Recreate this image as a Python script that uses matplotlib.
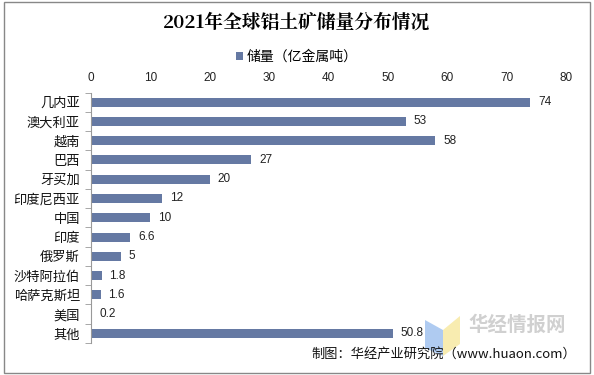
import matplotlib.pyplot as plt
from matplotlib.patches import Rectangle, Polygon

plt.rcParams['font.family'] = ['Noto Sans CJK SC', 'DejaVu Sans']

# ==============================
# DATA
# ==============================

countries = ["几内亚", "澳大利亚", "越南", "巴西", "牙买加", "印度尼西亚", "中国",
             "印度", "俄罗斯", "沙特阿拉伯", "哈萨克斯坦", "美国", "其他"]
reserves = [74, 53, 58, 27, 20, 12, 10, 6.6, 5, 1.8, 1.6, 0.2, 50.8]
value_labels = ["74", "53", "58", "27", "20", "12", "10", "6.6", "5", "1.8", "1.6", "0.2", "50.8"]
xticks = [0, 10, 20, 30, 40, 50, 60, 70, 80]

BAR_COLOR = "#6579a3"
W, H = 594, 375

# ==============================
# FIGURE
# ==============================

fig = plt.figure(figsize=(5.94, 3.75), dpi=100)
ax = fig.add_axes([0.1532, 0.0853, 0.7997, 0.668])
ax.patch.set_alpha(0)

ypos = list(range(len(countries)))
ax.barh(ypos, reserves, height=0.47, color=BAR_COLOR, label="储量（亿金属吨）")
for y, v, t in zip(ypos, reserves, value_labels):
    ax.text(v + 1.3, y, t, va="center", ha="left", fontsize=8.5, color="#222222",
            family=["Liberation Sans", "DejaVu Sans"])

ax.set_ylim(len(countries) - 0.5, -0.5)
ax.set_xlim(0, 80)
ax.set_xticks(xticks)
ax.xaxis.tick_top()
ax.tick_params(axis="x", length=0, labelsize=8.5, pad=6, colors="#222222")
for lbl in ax.get_xticklabels():
    lbl.set_family(["Liberation Sans", "DejaVu Sans"])

ax.set_yticks(ypos)
ax.set_yticklabels(countries, fontsize=9.5, color="#111111")
ax.tick_params(axis="y", length=0, pad=8)
ax.set_yticks([i - 0.5 for i in range(len(countries) + 1)], minor=True)
ax.tick_params(axis="y", which="minor", length=4, color="#999999")

for s in ["top", "right", "bottom"]:
    ax.spines[s].set_visible(False)
ax.spines["left"].set_color("#999999")

# title and legend
fig.text(0.5, 0.94, "2021年全球铝土矿储量分布情况", ha="center", va="center",
         fontsize=13.5, fontweight="bold", family=["Noto Serif CJK SC", "Noto Sans CJK SC"])
fig.legend(loc="center", bbox_to_anchor=(0.5, 0.848), frameon=False, fontsize=10,
           handlelength=0.5, handleheight=0.5, handletextpad=0.3)

# watermark (pixel coords, origin top-left of reference)
blue = [[425, 320], [443, 330], [443, 356], [425, 348]]
yellow = [[443, 330], [460, 316], [460, 344], [443, 356]]
for pts, col in [(blue, "#a6c6f0"), (yellow, "#f8eaa8")]:
    fig.add_artist(Polygon([[x / W, 1 - y / H] for x, y in pts], closed=True,
                           transform=fig.transFigure, facecolor=col, edgecolor="none",
                           alpha=0.9, zorder=5))
fig.text(468 / W, 1 - 325 / H, "华经情报网", fontsize=14, fontweight="bold",
         color="#d0d0d0", ha="left", va="center")

# source
fig.text(0.97, 0.055, "制图：华经产业研究院（www.huaon.com）", ha="right", va="center",
         fontsize=9.5, color="#111111", zorder=6)

# outer border
fig.add_artist(Rectangle((0.006, 0.006), 0.988, 0.988, transform=fig.transFigure,
                         fill=False, edgecolor="#888888", linewidth=1))

fig.savefig("out.png", dpi=100)
